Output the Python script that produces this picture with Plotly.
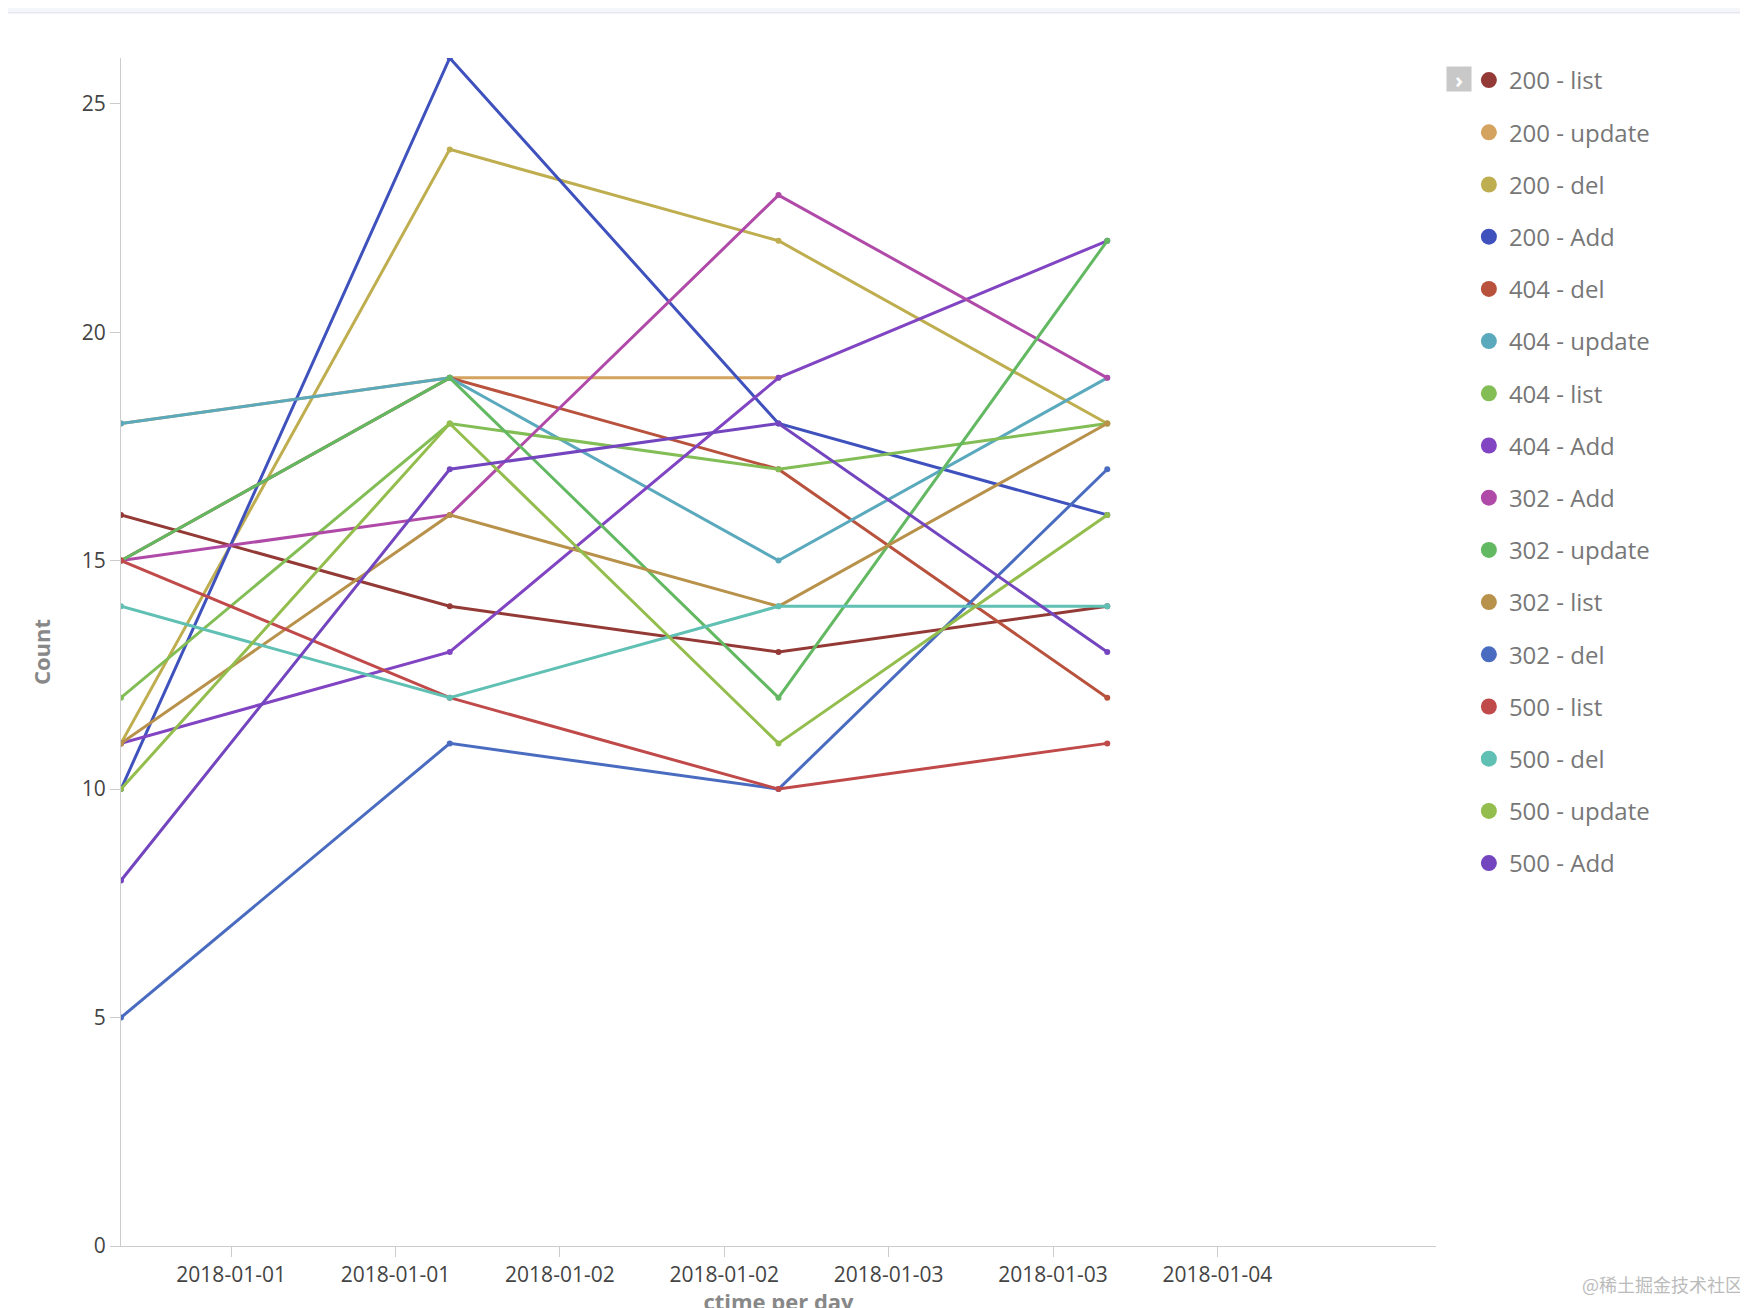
import plotly.graph_objects as go

x_pos = [0, 2, 4, 6]
names = ["200 - list", "200 - update", "200 - del", "200 - Add", "404 - del", "404 - update",
         "404 - list", "404 - Add", "302 - Add", "302 - update", "302 - list", "302 - del",
         "500 - list", "500 - del", "500 - update", "500 - Add"]
values = [
    [16, 14, 13, 14],
    [18, 19, 19, None],
    [11, 24, 22, 18],
    [10, 26, 18, 16],
    [15, 19, 17, 12],
    [18, 19, 15, 19],
    [12, 18, 17, 18],
    [11, 13, 19, 22],
    [15, 16, 23, 19],
    [15, 19, 12, 22],
    [11, 16, 14, 18],
    [5, 11, 10, 17],
    [15, 12, 10, 11],
    [14, 12, 14, 14],
    [10, 18, 11, 16],
    [8, 17, 18, 13],
]
colors = ["#943a36", "#d4a35f", "#bfae4f", "#3f51bd", "#b8523d", "#5aa9bd", "#82bd55", "#8144c2",
          "#b04aa8", "#63b862", "#b8914a", "#4a6cc0", "#c04a4a", "#5fc0b3", "#93bd4c", "#7345bf"]
tick_vals = [0.67, 1.67, 2.67, 3.67, 4.67, 5.67, 6.67]
tick_text = ["2018-01-01", "2018-01-01", "2018-01-02", "2018-01-02", "2018-01-03", "2018-01-03", "2018-01-04"]

fig = go.Figure()
for n, v, c in zip(names, values, colors):
    fig.add_trace(go.Scatter(x=x_pos, y=v, mode="lines+markers", name=n, legendgroup=n,
                             showlegend=False, line=dict(color=c, width=3),
                             marker=dict(color=c, size=6)))
    fig.add_trace(go.Scatter(x=[None], y=[None], mode="markers", name=n, legendgroup=n,
                             marker=dict(color=c, size=19)))

fig.update_layout(
    width=1748, height=1308, paper_bgcolor="white", plot_bgcolor="white",
    margin=dict(l=113, r=320, t=50, b=70),
    font=dict(family="Open Sans", color="#555"),
    legend=dict(x=1.025, y=1.0, yanchor="top", xanchor="left", font=dict(size=24, color="#777"),
                tracegroupgap=18, itemsizing="trace", itemwidth=30),
    shapes=[dict(type="rect", xref="paper", yref="paper", x0=-0.2, x1=1.5, y0=1.038, y1=1.1,
                 fillcolor="#f4f6fa", line=dict(color="#dde", width=1))],
)
fig.add_annotation(text="<b>›</b>", xref="paper", yref="paper", x=1.0, y=0.993, xanchor="left",
                   showarrow=False, font=dict(size=22, color="white"), bgcolor="#c8c8c8",
                   borderpad=2, xshift=10, width=20, height=20)
fig.update_xaxes(range=[0, 8], tickvals=tick_vals, ticktext=tick_text, showgrid=False,
                 showline=True, linecolor="#ccc", ticks="outside", tickcolor="#ccc", ticklen=10,
                 tickfont=dict(size=21, color="#444"), zeroline=False, automargin=False,
                 title=dict(text="<b>ctime per day</b>", font=dict(size=22, color="#888"), standoff=22))
fig.update_yaxes(range=[0, 26], tickvals=[0, 5, 10, 15, 20, 25], showgrid=False,
                 showline=True, linecolor="#ccc", ticks="outside", tickcolor="#ccc", ticklen=10,
                 tickfont=dict(size=21, color="#444"), zeroline=False,
                 title=dict(text="<b>Count</b>", font=dict(size=22, color="#888"), standoff=25))
fig.add_annotation(text="@稀土掘金技术社区", xref="paper", yref="paper", x=1.235, y=-0.045,
                   showarrow=False, font=dict(family="Noto Sans CJK SC", size=18, color="#bbb"),
                   xanchor="right")
fig.write_html("out.html")
